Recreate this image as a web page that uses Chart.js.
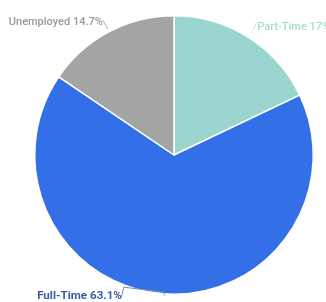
<!DOCTYPE html>
<html><head><meta charset="utf-8">
<script src="https://cdn.jsdelivr.net/npm/chart.js@4"></script>
<style>html,body{margin:0;padding:0;background:#fff}#wrap{width:326px;height:302px}</style>
</head><body><div id="wrap"><canvas id="c" width="326" height="302"></canvas></div>
<script>
const categories = ["Part-Time", "Full-Time", "Unemployed"];
const values = [17, 63.1, 14.7];
const labelTexts = ["Part-Time 17%", "Full-Time 63.1%", "Unemployed 14.7%"];
const colors = ["#9ad6cf", "#3370e8", "#a4a4a4"];
const textColors = ["#a6dbd4", "#3d5c9c", "#999999"];

// per-label styling: leader polyline offsets and text offset relative to slice edge midpoint
const labelStyle = [
  {line: [[5,-7],[8,-15]], text: [9,-7], align: "left", font: "500 11px Roboto", lineColor: "#bfe3de"},
  {line: [[-41.8,3.5],[-39.8,-6.7],[0.8,-1.7],[0.8,1.7]], text: [-41.5,5], align: "right", font: "bold 11.6px Roboto", lineColor: "#7d8db0"},
  {line: [[-1,-3],[-6,-12]], text: [-6,-7], align: "right", font: "500 11px Roboto", lineColor: "#b0b0b0"}
];

const outLabels = {
  id: "outLabels",
  afterDatasetsDraw(chart) {
    const ctx = chart.ctx;
    const meta = chart.getDatasetMeta(0);
    meta.data.forEach((arc, i) => {
      const p = arc.getProps(["x","y","startAngle","endAngle","outerRadius"], true);
      const mid = (p.startAngle + p.endAngle) / 2;
      const px = p.x + p.outerRadius * Math.cos(mid);
      const py = p.y + p.outerRadius * Math.sin(mid);
      const s = labelStyle[i];
      ctx.save();
      ctx.strokeStyle = s.lineColor;
      ctx.lineWidth = 1;
      ctx.beginPath();
      s.line.forEach((d, k) => {
        if (k === 0) ctx.moveTo(px + d[0], py + d[1]); else ctx.lineTo(px + d[0], py + d[1]);
      });
      ctx.stroke();
      ctx.fillStyle = textColors[i];
      ctx.font = s.font;
      ctx.textAlign = s.align;
      ctx.textBaseline = "alphabetic";
      ctx.fillText(labelTexts[i], px + s.text[0], py + s.text[1]);
      ctx.restore();
    });
  }
};

new Chart(document.getElementById("c"), {
  type: "pie",
  data: {
    labels: categories,
    datasets: [{
      data: values,
      backgroundColor: colors,
      borderColor: "#ffffff",
      borderWidth: 1.5
    }]
  },
  options: {
    responsive: false,
    animation: false,
    layout: {padding: {left: 34, right: 12, top: 15, bottom: 7}},
    plugins: {legend: {display: false}, tooltip: {enabled: false}}
  },
  plugins: [outLabels]
});
</script>
</body></html>
